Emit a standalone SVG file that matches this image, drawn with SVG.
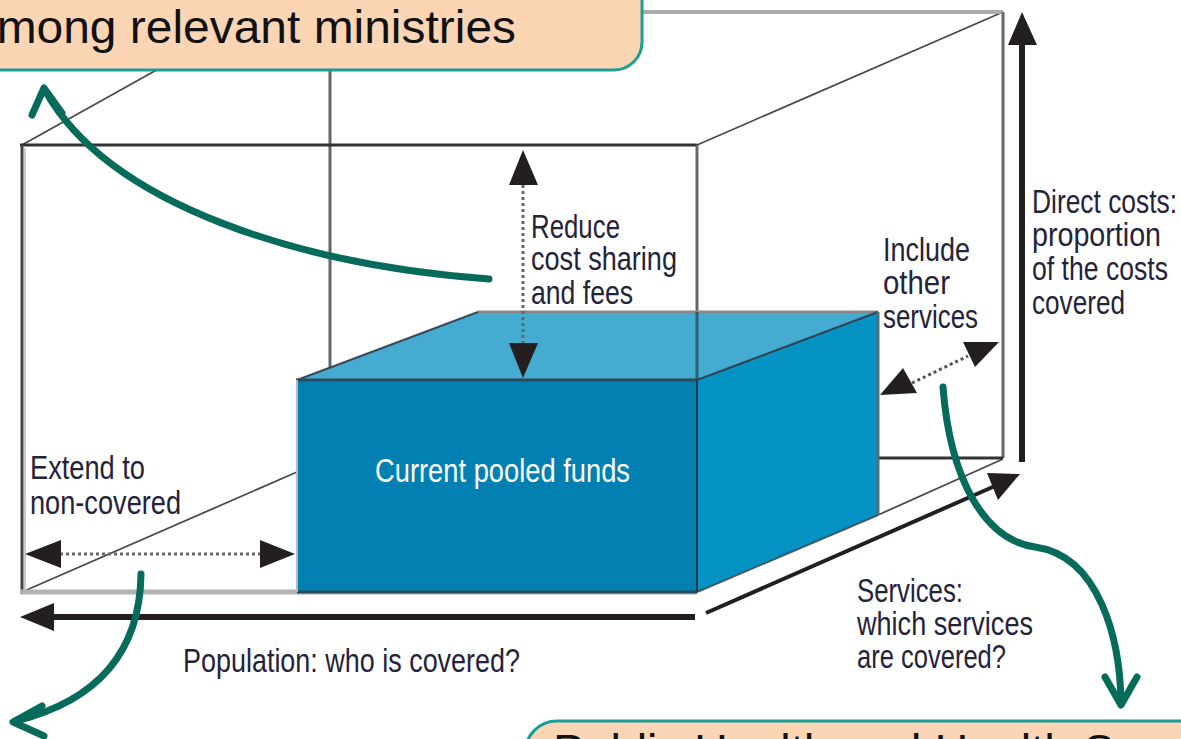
<svg xmlns="http://www.w3.org/2000/svg" width="1181" height="739" viewBox="0 0 1181 739">
<style>
.lbl{font-family:"Liberation Sans",Arial,sans-serif;font-size:33px;fill:#25233a}
.wt{fill:#ffffff}
.big{font-family:"Liberation Sans",Arial,sans-serif;font-size:47px;fill:#111}
.edge{fill:none;stroke:#666;stroke-width:3}
.dark{fill:none;stroke:#333;stroke-width:3}
.thin{fill:none;stroke:#4a4a4a;stroke-width:1.8}
.dot{fill:none;stroke:#666;stroke-width:3;stroke-dasharray:3 3}
.axis{fill:none;stroke:#231f20;stroke-width:6}
.head{fill:#231f20}
.green{fill:none;stroke:#066b5b;stroke-width:7;stroke-linecap:round;stroke-linejoin:round}
.note{fill:#fcd5b5;stroke:#1a9e96;stroke-width:3}
</style>
<rect width="1181" height="739" fill="#ffffff"/>

<g id="outer-box">
  <line class="thin" x1="22" y1="145" x2="300" y2="-10"/>
  <line class="thin" x1="697" y1="145" x2="1003" y2="12"/>
  <line class="thin" x1="22" y1="592" x2="297" y2="472"/>
  <line class="thin" x1="878" y1="515" x2="1003" y2="459"/>
  <line x1="640" y1="12" x2="1003" y2="12" stroke="#aaa" stroke-width="4"/>
  <line class="edge" x1="1003" y1="12" x2="1003" y2="458"/>
  <line class="dark" x1="878" y1="458" x2="1003" y2="458"/>
  <line class="edge" x1="330" y1="60" x2="330" y2="370"/>
  <line class="dark" x1="20" y1="145" x2="697" y2="145"/>
  <line x1="22" y1="145" x2="22" y2="592" stroke="#444" stroke-width="3"/>
  <line x1="25" y1="148" x2="25" y2="590" stroke="#ccc" stroke-width="2"/>
  <line x1="20" y1="592" x2="697" y2="592" stroke="#b2b2b2" stroke-width="5"/>
  <line class="edge" x1="697" y1="145" x2="697" y2="380"/>
</g>

<g id="pooled-funds">
  <polygon points="297,380 478,312 878,312 697,380" fill="#3ba7cf" fill-opacity="0.95"/>
  <line x1="478" y1="312" x2="878" y2="312" stroke="#888" stroke-width="3"/>
  <line x1="297" y1="380" x2="478" y2="312" stroke="#3a4a55" stroke-width="2"/>
  <line x1="697" y1="312" x2="697" y2="380" stroke="#2f5f72" stroke-width="3"/>
  <polygon points="697,380 878,312 878,515 697,592" fill="#0493c3"/>
  <line x1="697" y1="380" x2="878" y2="312" stroke="#2d4656" stroke-width="2"/>
  <line x1="878" y1="312" x2="878" y2="515" stroke="#4d6f80" stroke-width="3"/>
  <line x1="697" y1="592" x2="878" y2="515" stroke="#3d5a6a" stroke-width="2"/>
  <rect x="297" y="380" width="400" height="212" fill="#0380b2"/>
  <line x1="296" y1="380" x2="698" y2="380" stroke="#2a4b5e" stroke-width="3"/>
  <line x1="697" y1="380" x2="697" y2="592" stroke="#2a3a44" stroke-width="2"/>
  <line x1="297" y1="592" x2="697" y2="592" stroke="#2a4b5e" stroke-width="3"/>
  <line x1="297" y1="380" x2="297" y2="592" stroke="#bbb" stroke-width="2"/>
  <text class="lbl wt" x="375" y="482" textLength="255" lengthAdjust="spacingAndGlyphs">Current pooled funds</text>
</g>

<g id="connectors">
  <line class="axis" x1="50" y1="617" x2="695" y2="617"/>
  <polygon class="head" points="20,617 54,603 54,631"/>
  <line x1="706" y1="613" x2="995" y2="486" stroke="#231f20" stroke-width="4"/>
  <polygon class="head" points="1020,474 987,473 998,500"/>
  <line class="axis" x1="1022" y1="462" x2="1022" y2="40"/>
  <polygon class="head" points="1022,12 1008,45 1037,45"/>
  <line class="dot" x1="523" y1="185" x2="523" y2="345"/>
  <polygon class="head" points="523,150 509,185 538,185"/>
  <polygon class="head" points="523,378 509,343 538,343"/>
  <line class="dot" x1="60" y1="554" x2="262" y2="554"/>
  <polygon class="head" points="25,554 61,540 61,568"/>
  <polygon class="head" points="295,554 260,540 260,568"/>
  <line x1="912" y1="383" x2="968" y2="356" stroke="#555" stroke-width="3" stroke-dasharray="3 3"/>
  <polygon class="head" points="880,395 903,368 917,393"/>
  <polygon class="head" points="963,342 999,342 975,367"/>
  <path class="green" d="M489,279 C300,265 110,205 46,92"/>
  <polyline class="green" points="32,115 44,88 62,113"/>
  <path class="green" d="M141,574 C140,650 100,700 16,721"/>
  <polyline class="green" points="42,706 13,722 44,736"/>
  <path class="green" d="M943,387 C950,480 985,540 1035,547 C1100,556 1120,640 1121,702"/>
  <polyline class="green" points="1105,677 1121,705 1137,677"/>
</g>

<g id="label-reduce">
  <text class="lbl" x="531" y="238" textLength="89" lengthAdjust="spacingAndGlyphs">Reduce</text>
  <text class="lbl" x="531" y="270" textLength="146" lengthAdjust="spacingAndGlyphs">cost sharing</text>
  <text class="lbl" x="531" y="304" textLength="102" lengthAdjust="spacingAndGlyphs">and fees</text>
</g>
<g id="label-include">
  <text class="lbl" x="883" y="261" textLength="87" lengthAdjust="spacingAndGlyphs">Include</text>
  <text class="lbl" x="883" y="294" textLength="67" lengthAdjust="spacingAndGlyphs">other</text>
  <text class="lbl" x="883" y="328" textLength="95" lengthAdjust="spacingAndGlyphs">services</text>
</g>
<g id="label-direct">
  <text class="lbl" x="1032" y="213" textLength="145" lengthAdjust="spacingAndGlyphs">Direct costs:</text>
  <text class="lbl" x="1032" y="246" textLength="129" lengthAdjust="spacingAndGlyphs">proportion</text>
  <text class="lbl" x="1032" y="280" textLength="136" lengthAdjust="spacingAndGlyphs">of the costs</text>
  <text class="lbl" x="1032" y="314" textLength="93" lengthAdjust="spacingAndGlyphs">covered</text>
</g>
<g id="label-extend">
  <text class="lbl" x="30" y="479" textLength="115" lengthAdjust="spacingAndGlyphs">Extend to</text>
  <text class="lbl" x="30" y="514" textLength="151" lengthAdjust="spacingAndGlyphs">non-covered</text>
</g>
<g id="label-population">
  <text class="lbl" x="183" y="672" textLength="337" lengthAdjust="spacingAndGlyphs">Population: who is covered?</text>
</g>
<g id="label-services">
  <text class="lbl" x="857" y="602" textLength="106" lengthAdjust="spacingAndGlyphs">Services:</text>
  <text class="lbl" x="857" y="635" textLength="176" lengthAdjust="spacingAndGlyphs">which services</text>
  <text class="lbl" x="857" y="668" textLength="149" lengthAdjust="spacingAndGlyphs">are covered?</text>
</g>

<g id="note-top">
  <rect class="note" x="-40" y="-40" width="682" height="110" rx="28"/>
  <text class="big" x="-30" y="43" textLength="546" lengthAdjust="spacingAndGlyphs">among relevant ministries</text>
</g>

<g id="note-bottom">
  <rect class="note" x="525" y="721" width="700" height="100" rx="32"/>
  <text class="big" x="553" y="767">Public Health and Health Services</text>
</g>
</svg>
